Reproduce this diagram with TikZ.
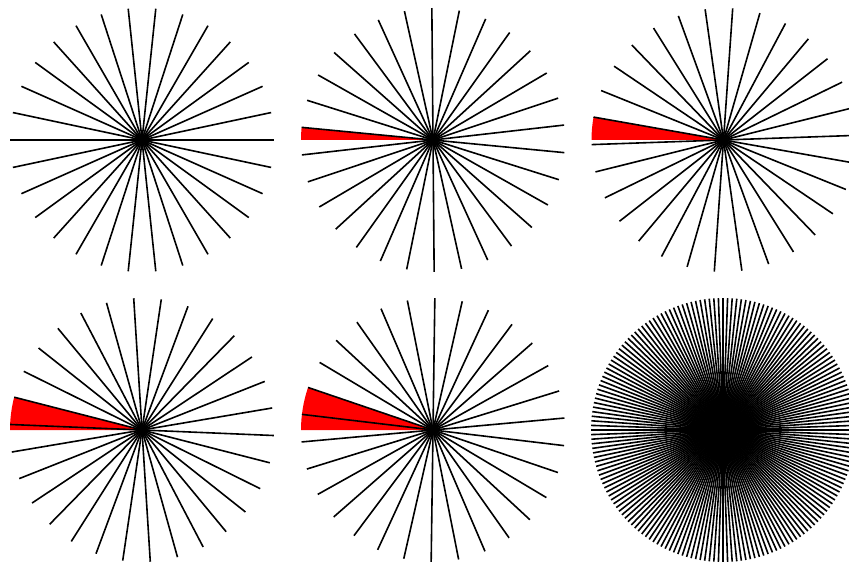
\documentclass[tikz,border=0pt]{standalone}
\begin{document}
\begin{tikzpicture}[x=1pt,y=1pt,
  ray/.style={line width=1.6pt, black, line cap=butt},
  wedge/.style={fill=red, draw=none}]
\useasboundingbox (0,0) rectangle (849,563);
\clip (0,0) rectangle (849,563);
\def\R{132}
% centres
\coordinate (c1) at (142,423);
\coordinate (c2) at (433,423);
\coordinate (c3) at (723.5,423);
\coordinate (c4) at (142,133);
\coordinate (c5) at (433,133);
\coordinate (c6) at (723,133);
% panel 1
\foreach \k in {0,...,29} \draw[ray] (c1) -- ++({12*\k}:\R);
% panel 2
\fill[wedge] (c2) -- ++(180:\R) arc[start angle=180, end angle=174.5, radius=\R] -- cycle;
\foreach \k in {0,...,29} \draw[ray] (c2) -- ++({174.5+12*\k}:\R);
% panel 3
\fill[wedge] (c3) -- ++(180:\R) arc[start angle=180, end angle=170, radius=\R] -- cycle;
\foreach \k in {0,...,29} \draw[ray] (c3) -- ++({170+12*\k}:\R);
% panel 4
\fill[wedge] (c4) -- ++(180:\R) arc[start angle=180, end angle=165.6, radius=\R] -- cycle;
\foreach \k in {0,...,29} \draw[ray] (c4) -- ++({165.6+12*\k}:\R);
% panel 5
\fill[wedge] (c5) -- ++(180:\R) arc[start angle=180, end angle=161.2, radius=\R] -- cycle;
\foreach \k in {0,...,29} \draw[ray] (c5) -- ++({161.2+12*\k}:\R);
% panel 6
\foreach \k in {0,...,179} \draw[ray] (c6) -- ++({2*\k}:\R);
\end{tikzpicture}
\end{document}
